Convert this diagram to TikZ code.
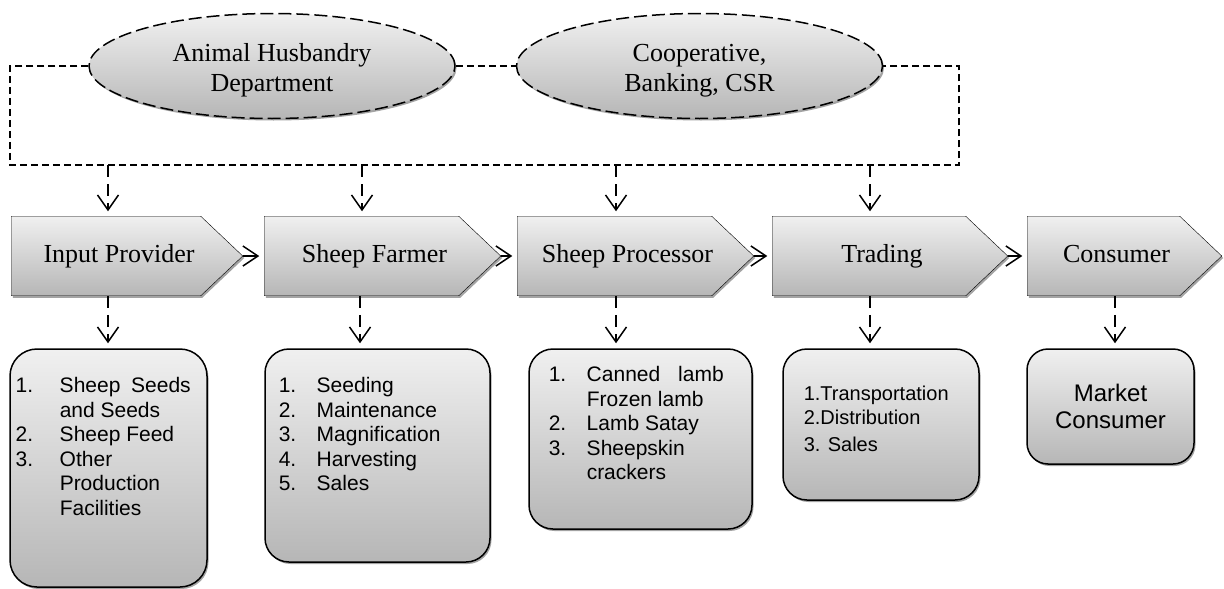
\documentclass[tikz,border=0pt]{standalone}
\usepackage{fontspec}
\setmainfont{Liberation Serif}
\newfontfamily\arialf{Liberation Sans}
\usetikzlibrary{arrows.meta,shapes.geometric,shadows,backgrounds,calc}
\definecolor{topg}{RGB}{240,240,240}
\definecolor{botg}{RGB}{182,182,182}
\definecolor{shd}{RGB}{140,140,140}
\begin{document}
\begin{tikzpicture}[x=1pt,y=-1pt,line width=1.5pt,
  shadowed/.style={drop shadow={shadow xshift=1.5pt,shadow yshift=-2pt,fill=shd,opacity=0.8}},
  ell/.style={ellipse,draw,dash pattern=on 13pt off 5pt,top color=topg,bottom color=botg,
    minimum width=366pt,minimum height=105pt,inner sep=0pt,
    font=\fontsize{26}{30}\selectfont,shadowed},
  chev/.style={minimum width=#1,minimum height=78pt,inner sep=0pt,text height=18pt,text depth=6pt,
    font=\fontsize{26}{30}\selectfont},
  chevshape/.style={draw,top color=topg,bottom color=botg,shadowed},
  frame/.style={line width=1.3pt,dash pattern=on 7pt off 4pt},
  arr/.style={-{Straight Barb[length=15pt,width=21pt]},dash pattern=on 12pt off 7pt,shorten >=5pt},
  harr/.style={-{Straight Barb[length=15pt,width=20pt]},shorten >=5pt},
  box/.style={draw,rounded corners=24pt,top color=topg,bottom color=botg,inner sep=0pt,shadowed},
  txt/.style={font=\arialf\fontsize{21}{24.5}\selectfont,align=left,inner sep=0pt,anchor=north west}
]
\path[use as bounding box] (0,0) rectangle (1224,589);

% ellipses
\node[ell] (ahd) at (272,66) {\raisebox{-4pt}[\height][\depth]{\begin{tabular}{@{}c@{}}Animal Husbandry\\Department\end{tabular}}};
\node[ell] (coop) at (699.5,66) {\raisebox{-4pt}[\height][\depth]{\begin{tabular}{@{}c@{}}Cooperative,\\Banking, CSR\end{tabular}}};

% frame
\coordinate (ftl) at (10,66);
\coordinate (fbl) at (10,165);
\coordinate (fbr) at (959,165);
\coordinate (ftr) at (959,66);
\draw[frame] (ahd.west) -- (ftl) -- (fbl) -- (fbr) -- (ftr) -- (coop.east);
\draw[frame] (ahd.east) -- (coop.west);

% chevrons
\node[chev=230pt] (ip) at (127,256) {Input Provider\hspace*{16pt}};
\node[chev=235pt] (sf) at (382.5,256) {Sheep Farmer\hspace*{16pt}};
\node[chev=235pt] (sp) at (635.5,256) {Sheep Processor\hspace*{16pt}};
\node[chev=234pt] (tr) at (890,256) {Trading\hspace*{16pt}};
\node[chev=193pt] (co) at (1124.5,256) {Consumer\hspace*{16pt}};

\begin{scope}[on background layer]
\fill[white] (0,0) rectangle (1224,589);
\foreach \n in {ip,sf,sp,tr,co}{
  \path[chevshape] (\n.north west) -- ([xshift=-42pt]\n.north east) -- (\n.east)
    -- ([xshift=-42pt]\n.south east) -- (\n.south west) -- cycle;
}
\end{scope}

% arrows from frame
\coordinate (u1) at (108,165);
\coordinate (u2) at (362,165);
\coordinate (u3) at (616,165);
\coordinate (u4) at (870,165);
\draw[arr] (u1) -- (u1 |- ip.north);
\draw[arr] (u2) -- (u2 |- sf.north);
\draw[arr] (u3) -- (u3 |- sp.north);
\draw[arr] (u4) -- (u4 |- tr.north);

% horizontal connectors
\draw[harr] (ip.east) -- (sf.west);
\draw[harr] (sf.east) -- (sp.west);
\draw[harr] (sp.east) -- (tr.west);
\draw[harr] (tr.east) -- (co.west);

% boxes
\node[box,rounded corners=27pt,minimum width=197pt,minimum height=238pt] (b1) at (108.5,468) {};
\node[box,minimum width=225pt,minimum height=213pt] (b2) at (377.5,455.5) {};
\node[box,minimum width=223pt,minimum height=180pt] (b3) at (640.5,439) {};
\node[box,minimum width=196pt,minimum height=151pt] (b4) at (881,424.5) {};
\node[box,rounded corners=21pt,minimum width=167pt,minimum height=115pt,align=center,
  font=\arialf\fontsize{24}{27}\selectfont] (b5) at (1110.5,406.5) {Market\\Consumer};

% arrows down to boxes
\draw[arr] (ip.south -| u1) -- (b1.north -| u1);
\draw[arr] ([xshift=-22.5pt]sf.south) -- ([xshift=-22.5pt]sf.south |- b2.north);
\draw[arr] ([xshift=-19.5pt]sp.south) -- ([xshift=-19.5pt]sp.south |- b3.north);
\draw[arr] ([xshift=-20pt]tr.south) -- ([xshift=-20pt]tr.south |- b4.north);
\draw[arr] ([xshift=-9.5pt]co.south) -- ([xshift=-9.5pt]co.south |- b5.north);

% box texts
\node[txt] (b1t) at (15,377) {\makebox[44pt][l]{1.}\makebox[131pt][s]{Sheep\hfill Seeds}\\
\hspace*{44pt}and Seeds\\
\makebox[44pt][l]{2.}Sheep Feed\\
\makebox[44pt][l]{3.}Other\\
\hspace*{44pt}Production\\
\hspace*{44pt}Facilities};
\node[txt] (b2t) at (278,377) {\makebox[38pt][l]{1.}Seeding\\
\makebox[38pt][l]{2.}Maintenance\\
\makebox[38pt][l]{3.}Magnification\\
\makebox[38pt][l]{4.}Harvesting\\
\makebox[38pt][l]{5.}Sales};
\node[txt] (b3t) at (548,366) {\makebox[38pt][l]{1.}\makebox[137pt][s]{Canned\hfill lamb}\\
\hspace*{38pt}Frozen lamb\\
\makebox[38pt][l]{2.}Lamb Satay\\
\makebox[38pt][l]{3.}Sheepskin\\
\hspace*{38pt}crackers};
\node[txt,font=\arialf\fontsize{20}{24.5}\selectfont] (b4t) at (803,385) {1.Transportation\\
2.Distribution\\[2pt]
3. Sales};
\end{tikzpicture}
\end{document}
